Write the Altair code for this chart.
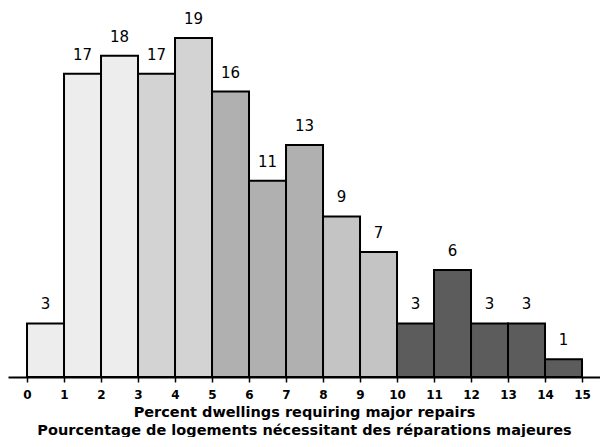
import altair as alt
import pandas as pd

bin_start = list(range(15))
counts = [3, 17, 18, 17, 19, 16, 11, 13, 9, 7, 3, 6, 3, 3, 1]
shade_group = ["a", "a", "a", "b", "b", "c", "c", "c", "d", "d", "e", "e", "e", "e", "e"]
shade_names = ["a", "b", "c", "d", "e"]
shade_colors = ["#ededed", "#d3d3d3", "#b0b0b0", "#c4c4c4", "#5c5c5c"]
tick_values = list(range(16))
title_lines = [
    "Percent dwellings requiring major repairs",
    "Pourcentage de logements nécessitant des réparations majeures",
]

df = pd.DataFrame({
    "start": bin_start,
    "end": [s + 1 for s in bin_start],
    "count": counts,
    "shade": shade_group,
})

FONT = "DejaVu Sans"

xscale = alt.Scale(domain=[-0.514, 15.486], nice=False, zero=False)
yscale = alt.Scale(domain=[0, 20.68], nice=False)

xaxis = alt.Axis(
    values=tick_values,
    title=title_lines,
    grid=False,
    domainColor="black",
    domainWidth=2,
    tickColor="black",
    tickWidth=1.5,
    tickSize=5,
    labelFont=FONT,
    labelFontSize=12,
    labelFontWeight="bold",
    labelColor="black",
    labelPadding=7,
    labelFlush=False,
    labelOverlap=False,
    titleFont=FONT,
    titleFontSize=14.5,
    titleFontWeight="bold",
    titleColor="black",
    titlePadding=5,
    titleLineHeight=18,
)

base = alt.Chart(df)

bars = base.mark_bar(stroke="black", strokeWidth=2).encode(
    x=alt.X("start:Q", scale=xscale, axis=xaxis),
    x2="end:Q",
    y=alt.Y("count:Q", scale=yscale, axis=None),
    y2=alt.datum(0),
    fill=alt.Fill("shade:N", scale=alt.Scale(domain=shade_names, range=shade_colors), legend=None),
)

labels = base.transform_calculate(mid="datum.start + 0.5").mark_text(
    font=FONT, fontSize=15, color="black", baseline="alphabetic", dy=-14
).encode(
    x=alt.X("mid:Q", scale=xscale, axis=xaxis),
    y=alt.Y("count:Q", scale=yscale, axis=None),
    text="count:Q",
)

chart = (bars + labels).properties(
    width=592, height=369, padding=0
).configure_view(stroke=None)

chart.save("out.html", embed_options={"renderer": "svg", "actions": False})
